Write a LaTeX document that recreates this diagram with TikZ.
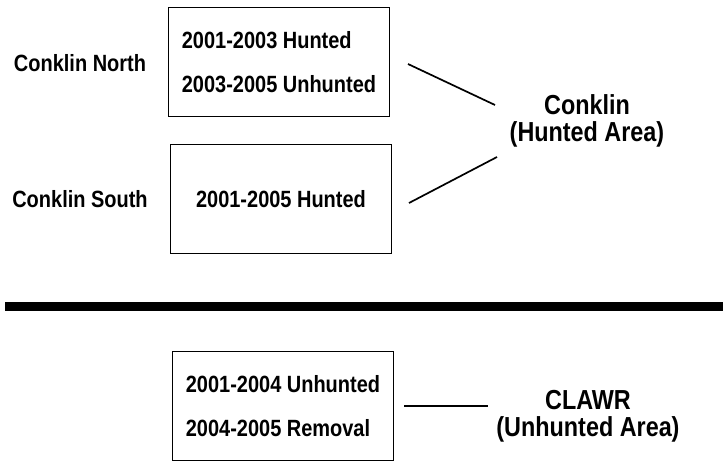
\documentclass[tikz,border=0pt]{standalone}
\usepackage{fontspec}
\setmainfont{Liberation Sans}[FakeStretch=0.85]
\usepackage{tikz}
\usetikzlibrary{positioning,calc}

\begin{document}
\begin{tikzpicture}[
  x=1pt, y=-1pt,
  period/.style={rectangle, draw=black, line width=1.7pt, minimum width=221pt,
                 minimum height=109pt, align=left, inner sep=0pt,
                 font=\fontsize{23.5}{44}\selectfont\bfseries},
  site/.style={font=\fontsize{23.5}{28}\selectfont\bfseries, inner sep=0pt},
  area/.style={align=center, inner sep=0pt,
               font=\fontsize{27.5}{27}\selectfont\bfseries},
  link/.style={line width=1.7pt},
]
\useasboundingbox[fill=white] (0,0) rectangle (723,462);
% hunted side (top)
\node[period] (north) at (279,62) {2001-2003 Hunted\\2003-2005 Unhunted};
\node[period] (south) at (281,199) {2001-2005 Hunted};
\node[site] (northlab) at (80,63) {Conklin North};
\node[site] (southlab) at (80,199) {Conklin South};
\node[area] (conklin) at (587,121) {Conklin\\(Hunted Area)};
\coordinate (nA) at (408,64);  \coordinate (nB) at (495,105);
\coordinate (sA) at (409,203); \coordinate (sB) at (497,157);
\draw[link] (nA) -- (nB);
\draw[link] (sA) -- (sB);
% divider
\draw[line width=9pt] (5,307) -- (723,307);
% unhunted side (bottom)
\node[period] (refuge) at (283,406) {2001-2004 Unhunted\\2004-2005 Removal};
\node[area] (clawr) at (588,416) {CLAWR\\(Unhunted Area)};
\coordinate (cA) at (404,406); \coordinate (cB) at (488,406);
\draw[link] (cA) -- (cB);
\end{tikzpicture}
\end{document}
